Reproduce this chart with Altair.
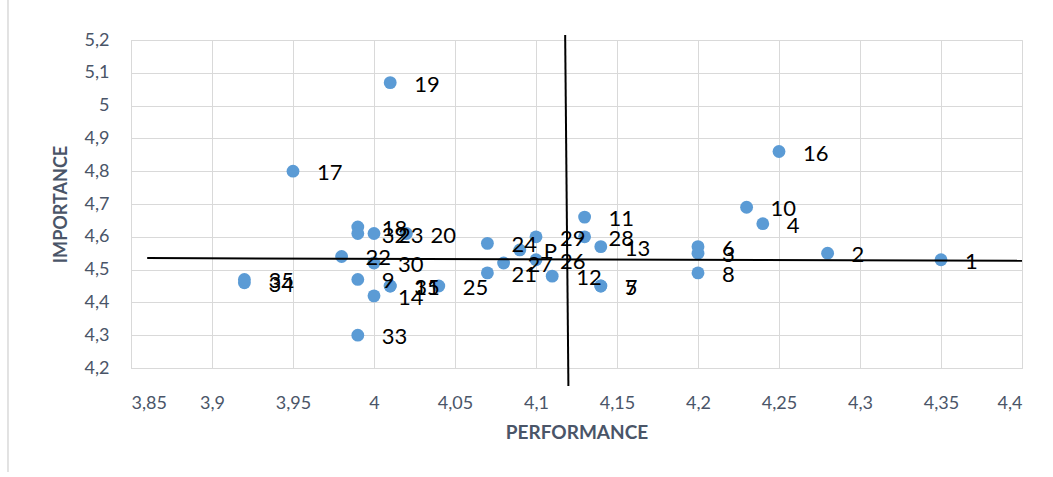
import altair as alt
import pandas as pd

labels = ["1", "2", "3", "4", "5", "6", "7", "8", "9", "10", "11", "12", "13", "14", "15",
          "16", "17", "18", "19", "20", "21", "22", "23", "24", "25", "26", "27", "28", "29",
          "30", "31", "32", "33", "34", "35", "P"]
performance = [4.35, 4.28, 4.20, 4.24, 4.14, 4.20, 4.14, 4.20, 3.99, 4.23, 4.13, 4.11, 4.14,
               4.00, 4.01, 4.25, 3.95, 3.99, 4.01, 4.02, 4.07, 3.98, 4.00, 4.07, 4.04, 4.10,
               4.08, 4.13, 4.10, 4.00, 4.01, 3.99, 3.99, 3.92, 3.92, 4.09]
importance = [4.53, 4.55, 4.55, 4.64, 4.45, 4.57, 4.45, 4.49, 4.47, 4.69, 4.66, 4.48, 4.57,
              4.42, 4.45, 4.86, 4.80, 4.63, 5.07, 4.61, 4.49, 4.54, 4.61, 4.58, 4.45, 4.53,
              4.52, 4.60, 4.60, 4.52, 4.45, 4.61, 4.30, 4.46, 4.47, 4.56]

x_ticks = [3.85, 3.9, 3.95, 4.0, 4.05, 4.1, 4.15, 4.2, 4.25, 4.3, 4.35, 4.4]
y_ticks = [4.2, 4.3, 4.4, 4.5, 4.6, 4.7, 4.8, 4.9, 5.0, 5.1, 5.2]

# crosshair (mean) lines as drawn in the original
cross_x1 = [3.86, 4.118]
cross_x2 = [4.40, 4.120]
cross_y1 = [4.535, 5.215]
cross_y2 = [4.527, 4.145]

df = pd.DataFrame({"label": labels, "perf": performance, "imp": importance})
cross = pd.DataFrame({"x1": cross_x1, "x2": cross_x2, "y1": cross_y1, "y2": cross_y2})

label_expr = "replace(format(datum.value, '.3~f'), '.', ',')"

xscale = alt.Scale(domain=[3.85, 4.4], nice=False, zero=False)
yscale = alt.Scale(domain=[4.2, 5.2], nice=False, zero=False)

axis_color = "#4A5568"

xaxis = alt.Axis(values=x_ticks, labelExpr=label_expr, title="PERFORMANCE",
                 grid=True, gridColor="#D9D9D9", ticks=False, domainColor="#D9D9D9",
                 labelOverlap=False,
                 labelFont="Lato", labelFontSize=18, labelColor=axis_color,
                 labelPadding=26, titleFont="Lato", titleFontSize=19,
                 titleFontWeight="bold", titleColor=axis_color, titlePadding=11)
yaxis = alt.Axis(values=y_ticks, labelExpr=label_expr, title="IMPORTANCE",
                 grid=True, gridColor="#D9D9D9", ticks=False, domainColor="#D9D9D9",
                 labelOverlap=False,
                 labelFont="Lato", labelFontSize=18, labelColor=axis_color,
                 labelPadding=22, titleFont="Lato", titleFontSize=18,
                 titleFontWeight="bold", titleColor=axis_color, titlePadding=14)

base = alt.Chart(df)

points = base.mark_circle(size=165, color="#5B9BD5", opacity=1).encode(
    x=alt.X("perf:Q", scale=xscale, axis=xaxis),
    y=alt.Y("imp:Q", scale=yscale, axis=yaxis),
)

texts = base.mark_text(align="left", baseline="middle", dx=24, dy=2,
                       font="Lato", fontSize=22, color="#000000").encode(
    x=alt.X("perf:Q", scale=xscale, axis=xaxis),
    y=alt.Y("imp:Q", scale=yscale, axis=yaxis),
    text="label:N",
)

lines = alt.Chart(cross).mark_rule(color="#000000", strokeWidth=2).encode(
    x=alt.X("x1:Q", scale=xscale, axis=xaxis),
    x2="x2:Q",
    y=alt.Y("y1:Q", scale=yscale, axis=yaxis),
    y2="y2:Q",
)

border = alt.Chart(cross).mark_rule(color="#D9D9D9", strokeWidth=1).encode(
    x=alt.value(-123), y=alt.value(-40), y2=alt.value(432)
)

chart = alt.layer(points, texts, lines, border).properties(
    width=891, height=328,
    autosize=alt.AutoSizeParams(type="none"),
    padding={"left": 131, "top": 40, "right": 31, "bottom": 109},
).configure_view(stroke=None).configure(background="white")

chart.save("out.html", embed_options={"renderer": "svg", "actions": False})
